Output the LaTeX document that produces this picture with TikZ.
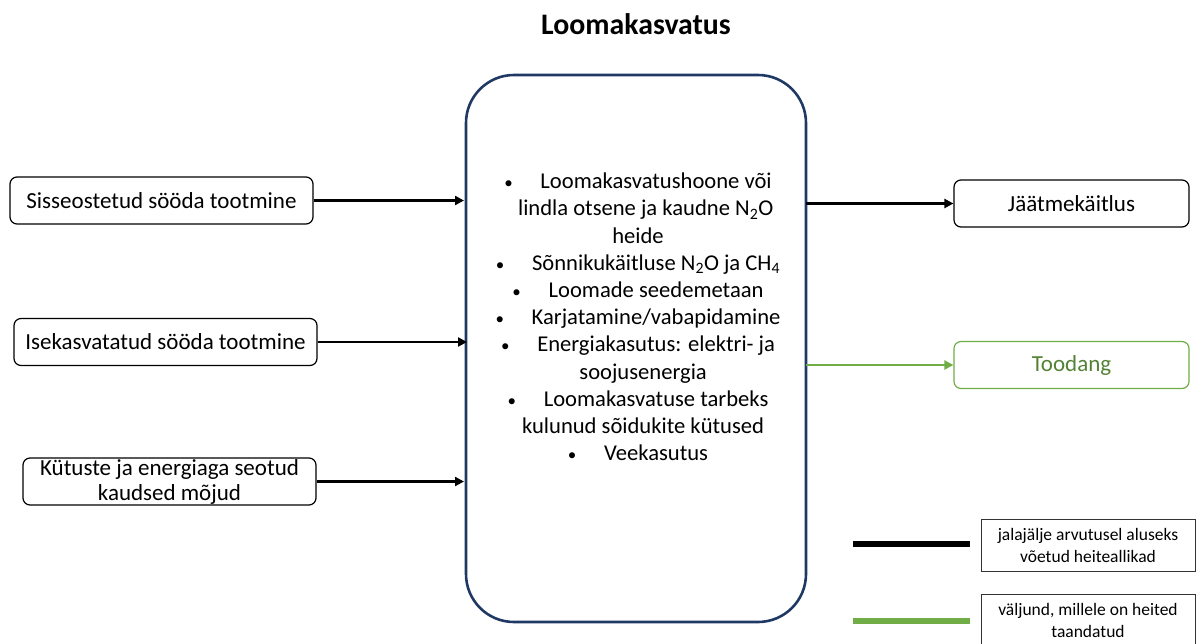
\documentclass[tikz,border=0pt]{standalone}
\usepackage{fontspec}
\setmainfont{Carlito}
\usetikzlibrary{arrows.meta}
\definecolor{navy}{HTML}{1F3864}
\definecolor{grn}{HTML}{70AD47}
\definecolor{grntext}{HTML}{548235}
\newcommand{\bul}{{\fontsize{17}{17}\selectfont\textbullet}\quad\ }
\begin{document}
\begin{tikzpicture}[x=1pt,y=-1pt,
  inbox/.style={draw=black,line width=1.2pt,rounded corners=7pt,minimum height=47pt,font=\fontsize{23}{25}\selectfont,align=center,inner sep=1pt},
  conn/.style={line width=2.6pt,-{Triangle[length=9pt,width=9pt]}},
  legbox/.style={draw=black!80,line width=1pt,font=\fontsize{17.5}{22}\selectfont,align=center,inner sep=1pt}]
\useasboundingbox (0,0) rectangle (1196,643);
\node[font=\bfseries\fontsize{29.8}{32}\selectfont] (title) at (636,24) {Loomakasvatus};
\node[draw=navy,line width=2.6pt,rounded corners=48pt,minimum width=340pt,minimum height=547pt] (main) at (636,348.5) {};
\node[font=\fontsize{22.6}{27.2}\selectfont,align=center] (list) at (638,317) {%
\bul Loomakasvatushoone või\\
\ \ \ lindla otsene ja kaudne N\textsubscript{2}O\\
heide\\
\bul Sõnnikukäitluse N\textsubscript{2}O ja CH\textsubscript{4}\\
\bul Loomade seedemetaan\\
\bul Karjatamine/vabapidamine\\
\bul Energiakasutus: elektri- ja\\
\ \ soojusenergia\\
\bul Loomakasvatuse tarbeks\\
\ \ kulunud sõidukite kütused\\
\bul Veekasutus};
\node[inbox,minimum width=303pt] (a) at (161.5,200.5) {Sisseostetud sööda tootmine};
\node[inbox,minimum width=303pt] (b) at (165.5,342) {Isekasvatatud sööda tootmine};
\node[inbox,minimum width=293pt] (c) at (169.5,481.5) {Kütuste ja energiaga seotud\\kaudsed mõjud};
\node[inbox,minimum width=235pt] (d) at (1071.5,203.5) {Jäätmekäitlus};
\node[inbox,draw=grn,text=grntext,minimum width=235pt] (e) at (1071.5,365) {Toodang};
\coordinate (a1) at (464,200.5);
\coordinate (b1) at (467,342);
\coordinate (c1) at (464,481.5);
\draw[conn] (a.east) -- (a1);
\draw[conn] (b.east) -- (b1);
\draw[conn] (c.east) -- (c1);
\coordinate (d0) at (806,203.5);
\coordinate (e0) at (806,365);
\draw[conn] (d0) -- (d.west);
\draw[conn,grn] (e0) -- (e.west);
\coordinate (l1a) at (853,544);
\coordinate (l1b) at (970,544);
\coordinate (l2a) at (853,621);
\coordinate (l2b) at (970,621);
\draw[line width=6pt] (l1a) -- (l1b);
\draw[line width=6pt,grn] (l2a) -- (l2b);
\node[legbox,minimum width=214pt,minimum height=52pt] (leg1) at (1088,545) {jalajälje arvutusel aluseks\\võetud heiteallikad};
\node[legbox,minimum width=214pt,minimum height=52pt] (leg2) at (1088,620) {väljund, millele on heited\\taandatud};
\end{tikzpicture}
\end{document}
